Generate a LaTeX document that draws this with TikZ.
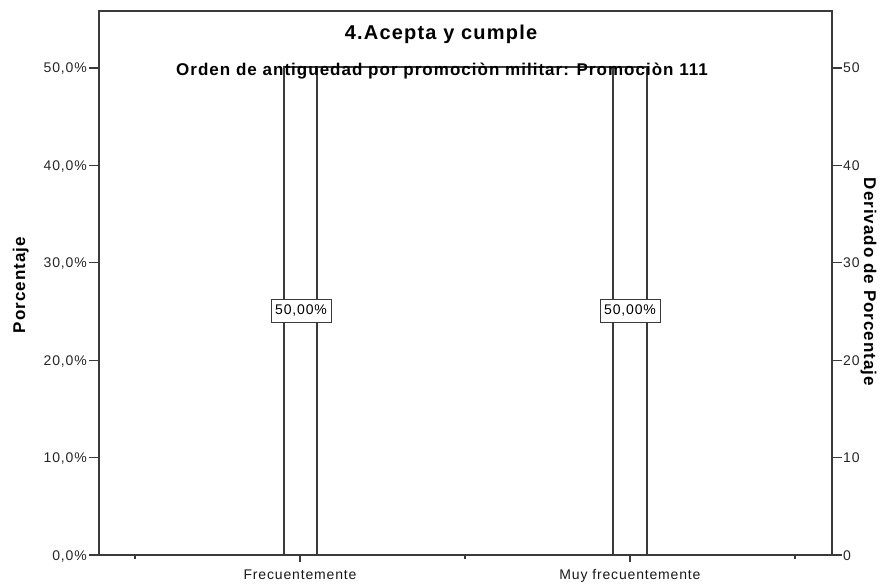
\documentclass[tikz,border=0pt]{standalone}
\usepackage{fontspec}
\setmainfont[LetterSpace=6]{Liberation Sans}
\definecolor{axisgrey}{HTML}{3A3A3A}
\tikzset{
  axisline/.style={draw=axisgrey, line width=1.3pt},
  tickline/.style={draw=axisgrey, line width=1.1pt},
  barbox/.style={draw=axisgrey, line width=1.2pt, fill=white},
  ticklbl/.style={inner sep=0pt, text=black!85, font=\fontsize{14}{16}\selectfont},
  catlbl/.style={inner sep=0pt, text=black!90, font=\fontsize{14}{16}\selectfont, anchor=base},
  axtitle/.style={inner sep=0pt, font=\bfseries\fontsize{17}{20}\selectfont},
  datalbl/.style={draw=axisgrey, line width=0.9pt, fill=white, inner sep=0pt,
    minimum width=60pt, minimum height=23pt, font=\fontsize{14}{16}\selectfont},
}
\begin{document}
\begin{tikzpicture}[x=1pt, y=-1pt]
  \useasboundingbox (0,0) rectangle (886,585);

  % plot frame corners
  \coordinate (tl) at (99,11);
  \coordinate (tr) at (832,11);
  \coordinate (bl) at (99,555);
  \coordinate (br) at (832,555);

  % bars (value 50% -> y = 67)
  \draw[barbox] (284,555) rectangle (317,67);
  \draw[barbox] (613,555) rectangle (647,67);
  \coordinate (b1top) at (300,67);
  \coordinate (b2top) at (630,67);
  \draw[axisgrey, line width=1.2pt] (284,67) -- (b1top) -- (b2top) -- (647,67);

  % frame
  \draw[axisline] (bl) -- (tl) -- (tr) -- (br) -- cycle;

  % left axis ticks and labels
  \foreach \v/\lab in {0/{0,0\%},10/{10,0\%},20/{20,0\%},30/{30,0\%},40/{40,0\%},50/{50,0\%}} {
    \pgfmathsetmacro{\yy}{555-\v*9.74}
    \draw[tickline] (89,\yy) -- (99,\yy);
    \node[ticklbl, anchor=base east] (l\v) at (87,\yy+5) {\lab};
  }
  % right axis ticks and labels
  \foreach \v in {0,10,20,30,40,50} {
    \pgfmathsetmacro{\yy}{555-\v*9.74}
    \draw[tickline] (832,\yy) -- (842,\yy);
    \node[ticklbl, anchor=base west] (r\v) at (843,\yy+5) {\v};
  }

  % bottom axis ticks
  \foreach \x in {135,465,795} {
    \draw[tickline] (\x,555) -- (\x,559);
  }
  \foreach \x in {300,630} {
    \draw[tickline] (\x,555) -- (\x,562);
  }

  % category labels
  \node[catlbl] (c1) at (300,579) {Frecuentemente};
  \node[catlbl] (c2) at (630,579) {Muy frecuentemente};

  % data labels
  \node[datalbl] (d1) at (301,310.5) {50,00\%};
  \node[datalbl] (d2) at (630,310.5) {50,00\%};

  % titles
  \node[inner sep=0pt, anchor=base, font=\bfseries\fontsize{20}{24}\selectfont] (title) at (441,40) {4.Acepta y cumple};
  \node[inner sep=0pt, anchor=base, font=\bfseries\fontsize{17}{20}\selectfont] (subtitle) at (442,76)
    {Orden de antiguedad por promociòn militar: Promociòn 111};

  % axis titles
  \node[axtitle, rotate=90, anchor=base] (ytitle) at (25,285) {Porcentaje};
  \node[axtitle, rotate=-90, anchor=base] (y2title) at (864,282) {Derivado de Porcentaje};
\end{tikzpicture}
\end{document}
